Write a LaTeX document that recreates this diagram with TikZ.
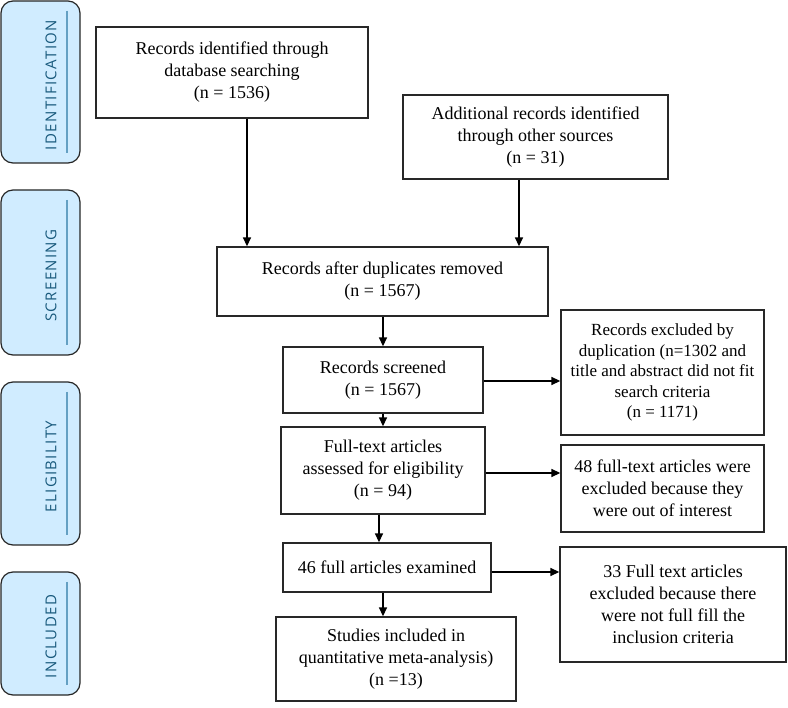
\documentclass[tikz,border=0pt]{standalone}
\usepackage{fontspec}
\setmainfont{Liberation Serif}
\newfontfamily\labelfont[LetterSpace=9]{Open Sans}
\usetikzlibrary{arrows.meta}
\definecolor{lblfill}{RGB}{208,236,255}
\definecolor{lbltext}{RGB}{25,90,125}
\definecolor{lblline}{RGB}{100,160,195}
\definecolor{boxline}{RGB}{40,40,40}
\tikzset{
  box/.style={draw=boxline, line width=1.3pt, align=center, inner sep=2pt,
    font=\fontsize{18}{22}\selectfont},
  arr/.style={-{Triangle[length=9pt,width=8pt]}, line width=1.4pt, black},
  phase/.style={draw=black!85, line width=1.2pt, fill=lblfill, rounded corners=12pt},
  phasetxt/.style={rotate=90, text=lbltext, font=\labelfont\fontsize{15}{18}\selectfont},
  phaseline/.style={draw=lblline, line width=1.2pt},
}
\begin{document}
\begin{tikzpicture}[x=1pt,y=-1pt]
\useasboundingbox (0,0) rectangle (788,708);
% phase labels
\foreach \name/\top/\bot/\txt in {pid/1/163/IDENTIFICATION, psc/190/355/SCREENING, pel/382/545/ELIGIBILITY, pin/572/695/INCLUDED}{
  \draw[phase] (1,\top) rectangle (80,\bot);
  \draw[phaseline] (67,\top+10) -- (67,\bot-10);
  \node[phasetxt] (\name) at (51,{(\top+\bot)/2+3}) {\txt};
}
% boxes
\node[box, minimum width=272pt, minimum height=91pt] (b1) at (232,72.5)
  {Records identified through\\database searching\\(n = 1536)};
\node[box, minimum width=265pt, minimum height=84pt] (b2) at (535.5,137)
  {Additional records identified\\through other sources\\(n = 31)};
\node[box, minimum width=331pt, minimum height=69pt] (b3) at (382.5,281.5)
  {Records after duplicates removed\\(n = 1567)};
\node[box, minimum width=200pt, minimum height=66pt] (b4) at (383,380)
  {Records screened\\(n = 1567)};
\node[box, minimum width=203pt, minimum height=125pt, font=\fontsize{17}{20.5}\selectfont] (b5) at (662.5,372.5)
  {Records excluded by\\duplication (n=1302 and\\title and abstract did not fit\\search criteria\\(n = 1171)};
\node[box, minimum width=204pt, minimum height=87pt] (b6) at (383,470.5)
  {Full-text articles\\assessed for eligibility\\(n = 94)};
\node[box, minimum width=203pt, minimum height=87pt] (b7) at (662.5,488.5)
  {48 full-text articles were\\excluded because they\\were out of interest};
\node[box, minimum width=208pt, minimum height=49pt] (b8) at (387,567.5)
  {46 full articles examined};
\node[box, minimum width=226pt, minimum height=115pt] (b9) at (673,604.5)
  {33 Full text articles\\excluded because there\\were not full fill the\\inclusion criteria};
\node[box, minimum width=240pt, minimum height=84pt] (b10) at (396,659)
  {Studies included in\\quantitative meta-analysis)\\(n =13)};
% connector guides
\coordinate (x1) at (247,0);
\coordinate (x2) at (519,0);
\coordinate (x3) at (383,0);
\coordinate (x4) at (379,0);
\coordinate (y1) at (0,381);
\coordinate (y2) at (0,473);
\coordinate (y3) at (0,572);
% connectors
\draw[arr] (b1.south -| x1) -- (b3.north -| x1);
\draw[arr] (b2.south -| x2) -- (b3.north -| x2);
\draw[arr] (b3.south -| x3) -- (b4.north -| x3);
\draw[arr] (b4.east |- y1) -- (b5.west |- y1);
\draw[arr] (b4.south -| x3) -- (b6.north -| x3);
\draw[arr] (b6.east |- y2) -- (b7.west |- y2);
\draw[arr] (b6.south -| x4) -- (b8.north -| x4);
\draw[arr] (b8.east |- y3) -- (b9.west |- y3);
\draw[arr] (b8.south -| x3) -- (b10.north -| x3);
\end{tikzpicture}
\end{document}
